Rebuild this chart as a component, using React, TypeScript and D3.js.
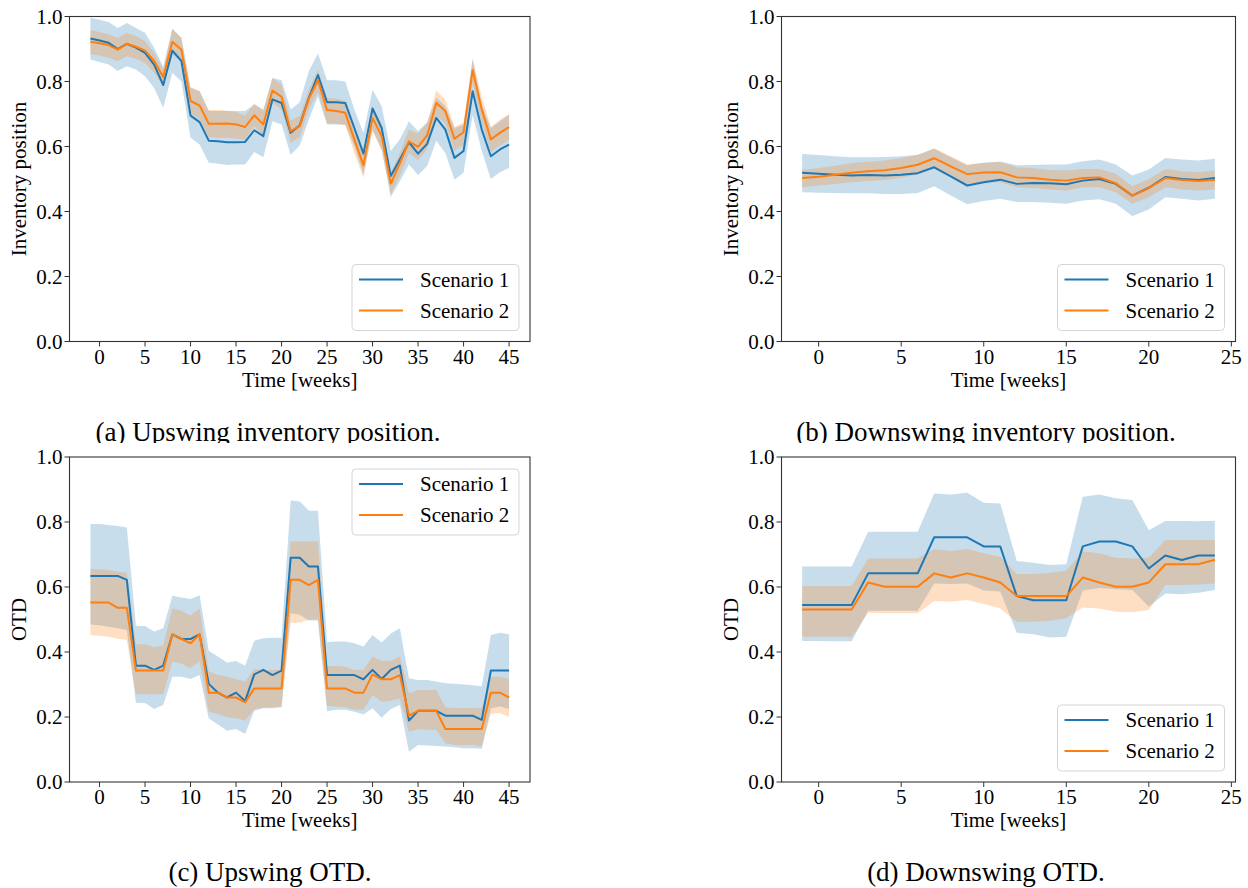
import React from "react";
import * as d3 from "d3";

// x values (weeks)
const upWeeks = [-1, 0, 1, 2, 3, 4, 5, 6, 7, 8, 9, 10, 11, 12, 13, 14, 15, 16, 17, 18, 19, 20, 21, 22, 23, 24, 25, 26, 27, 28, 29, 30, 31, 32, 33, 34, 35, 36, 37, 38, 39, 40, 41, 42, 43, 44, 45];
const downWeeks = [-1, 0, 1, 2, 3, 4, 5, 6, 7, 8, 9, 10, 11, 12, 13, 14, 15, 16, 17, 18, 19, 20, 21, 22, 23, 24];

const upTicks = [0, 5, 10, 15, 20, 25, 30, 35, 40, 45];
const downTicks = [0, 5, 10, 15, 20, 25];
const yTicks = [0, 0.2, 0.4, 0.6, 0.8, 1.0];

// (a) upswing inventory position
const upInvS1 = [0.932, 0.926, 0.919, 0.9, 0.916, 0.904, 0.888, 0.852, 0.789, 0.895, 0.863, 0.695, 0.675, 0.618, 0.616, 0.613, 0.613, 0.614, 0.65, 0.632, 0.745, 0.734, 0.642, 0.665, 0.75, 0.82, 0.736, 0.736, 0.734, 0.657, 0.578, 0.717, 0.657, 0.509, 0.56, 0.613, 0.578, 0.608, 0.688, 0.652, 0.565, 0.586, 0.77, 0.652, 0.57, 0.591, 0.606];
const upInvS1Lo = [0.868, 0.86, 0.852, 0.832, 0.847, 0.837, 0.816, 0.78, 0.719, 0.827, 0.8, 0.627, 0.606, 0.55, 0.547, 0.543, 0.545, 0.545, 0.583, 0.567, 0.678, 0.668, 0.575, 0.603, 0.683, 0.755, 0.668, 0.668, 0.668, 0.6, 0.514, 0.652, 0.59, 0.445, 0.493, 0.545, 0.512, 0.54, 0.618, 0.58, 0.498, 0.519, 0.698, 0.586, 0.5, 0.521, 0.534];
const upInvS1Hi = [0.996, 0.99, 0.983, 0.965, 0.98, 0.965, 0.95, 0.904, 0.845, 0.962, 0.934, 0.78, 0.77, 0.709, 0.709, 0.709, 0.709, 0.709, 0.729, 0.714, 0.811, 0.804, 0.714, 0.736, 0.832, 0.886, 0.804, 0.804, 0.8, 0.714, 0.642, 0.775, 0.724, 0.586, 0.622, 0.678, 0.647, 0.675, 0.75, 0.724, 0.657, 0.667, 0.87, 0.729, 0.657, 0.678, 0.698];
const upInvS2 = [0.922, 0.918, 0.912, 0.898, 0.916, 0.907, 0.895, 0.863, 0.814, 0.922, 0.898, 0.74, 0.726, 0.67, 0.67, 0.671, 0.668, 0.66, 0.696, 0.668, 0.772, 0.753, 0.647, 0.663, 0.747, 0.804, 0.712, 0.709, 0.704, 0.622, 0.542, 0.688, 0.632, 0.486, 0.548, 0.616, 0.599, 0.634, 0.734, 0.709, 0.624, 0.644, 0.835, 0.714, 0.622, 0.642, 0.66];
const upInvS2Lo = [0.883, 0.88, 0.873, 0.862, 0.878, 0.87, 0.857, 0.827, 0.786, 0.883, 0.86, 0.702, 0.683, 0.629, 0.627, 0.627, 0.625, 0.62, 0.663, 0.632, 0.734, 0.715, 0.611, 0.629, 0.714, 0.77, 0.671, 0.67, 0.665, 0.58, 0.504, 0.647, 0.59, 0.452, 0.509, 0.58, 0.558, 0.593, 0.695, 0.671, 0.586, 0.606, 0.796, 0.673, 0.583, 0.603, 0.62];
const upInvS2Hi = [0.958, 0.952, 0.945, 0.934, 0.95, 0.94, 0.924, 0.888, 0.837, 0.962, 0.934, 0.784, 0.77, 0.712, 0.712, 0.711, 0.706, 0.695, 0.732, 0.709, 0.811, 0.791, 0.68, 0.695, 0.775, 0.837, 0.75, 0.747, 0.74, 0.657, 0.57, 0.724, 0.668, 0.519, 0.58, 0.652, 0.64, 0.673, 0.773, 0.745, 0.66, 0.673, 0.87, 0.753, 0.66, 0.683, 0.7];

// (b) downswing inventory position
const downInvS1 = [0.519, 0.516, 0.513, 0.511, 0.512, 0.511, 0.513, 0.518, 0.536, 0.508, 0.48, 0.49, 0.498, 0.485, 0.488, 0.487, 0.484, 0.495, 0.5, 0.485, 0.449, 0.473, 0.506, 0.5, 0.497, 0.503];
const downInvS1Lo = [0.459, 0.458, 0.457, 0.456, 0.456, 0.454, 0.454, 0.457, 0.478, 0.449, 0.422, 0.432, 0.439, 0.429, 0.429, 0.427, 0.424, 0.434, 0.438, 0.424, 0.386, 0.406, 0.444, 0.439, 0.434, 0.439];
const downInvS1Hi = [0.577, 0.574, 0.57, 0.567, 0.567, 0.568, 0.57, 0.575, 0.593, 0.567, 0.542, 0.55, 0.554, 0.542, 0.543, 0.545, 0.545, 0.555, 0.56, 0.545, 0.511, 0.529, 0.565, 0.56, 0.557, 0.562];
const downInvS2 = [0.503, 0.507, 0.513, 0.519, 0.524, 0.527, 0.534, 0.544, 0.564, 0.539, 0.515, 0.52, 0.521, 0.505, 0.503, 0.498, 0.495, 0.503, 0.505, 0.487, 0.449, 0.472, 0.503, 0.497, 0.494, 0.497];
const downInvS2Lo = [0.475, 0.48, 0.485, 0.49, 0.494, 0.497, 0.504, 0.514, 0.533, 0.509, 0.485, 0.49, 0.49, 0.475, 0.472, 0.468, 0.465, 0.475, 0.475, 0.459, 0.424, 0.444, 0.475, 0.468, 0.465, 0.468];
const downInvS2Hi = [0.528, 0.534, 0.541, 0.549, 0.553, 0.557, 0.564, 0.574, 0.595, 0.57, 0.545, 0.55, 0.552, 0.536, 0.533, 0.528, 0.526, 0.531, 0.531, 0.516, 0.478, 0.5, 0.531, 0.524, 0.521, 0.526];

// (c) upswing OTD
const upOtdS1 = [0.634, 0.634, 0.634, 0.634, 0.622, 0.358, 0.358, 0.345, 0.358, 0.454, 0.44, 0.44, 0.454, 0.302, 0.275, 0.26, 0.275, 0.249, 0.331, 0.345, 0.329, 0.343, 0.69, 0.69, 0.663, 0.663, 0.329, 0.329, 0.329, 0.329, 0.316, 0.345, 0.317, 0.345, 0.358, 0.189, 0.219, 0.219, 0.219, 0.204, 0.204, 0.204, 0.204, 0.191, 0.343, 0.343, 0.343];
const upOtdS1Lo = [0.485, 0.482, 0.478, 0.473, 0.468, 0.244, 0.243, 0.225, 0.237, 0.324, 0.324, 0.317, 0.329, 0.196, 0.177, 0.158, 0.163, 0.148, 0.219, 0.227, 0.227, 0.23, 0.519, 0.515, 0.497, 0.497, 0.218, 0.222, 0.222, 0.216, 0.208, 0.227, 0.198, 0.225, 0.237, 0.093, 0.114, 0.112, 0.111, 0.109, 0.107, 0.104, 0.104, 0.102, 0.227, 0.232, 0.225];
const upOtdS1Hi = [0.794, 0.794, 0.791, 0.788, 0.783, 0.48, 0.48, 0.463, 0.473, 0.573, 0.568, 0.563, 0.575, 0.404, 0.386, 0.368, 0.372, 0.358, 0.435, 0.442, 0.444, 0.444, 0.866, 0.863, 0.835, 0.835, 0.43, 0.432, 0.432, 0.427, 0.417, 0.452, 0.429, 0.457, 0.473, 0.319, 0.314, 0.314, 0.309, 0.304, 0.302, 0.3, 0.298, 0.295, 0.452, 0.459, 0.455];
const upOtdS2 = [0.552, 0.552, 0.552, 0.536, 0.536, 0.343, 0.343, 0.343, 0.343, 0.454, 0.44, 0.427, 0.454, 0.275, 0.275, 0.26, 0.26, 0.245, 0.288, 0.288, 0.288, 0.288, 0.622, 0.622, 0.606, 0.622, 0.288, 0.288, 0.288, 0.275, 0.275, 0.331, 0.316, 0.316, 0.329, 0.204, 0.219, 0.219, 0.219, 0.163, 0.163, 0.163, 0.163, 0.163, 0.275, 0.275, 0.26];
const upOtdS2Lo = [0.452, 0.45, 0.447, 0.441, 0.437, 0.27, 0.27, 0.27, 0.27, 0.37, 0.365, 0.35, 0.372, 0.216, 0.209, 0.199, 0.196, 0.189, 0.224, 0.229, 0.23, 0.232, 0.49, 0.49, 0.5, 0.5, 0.234, 0.232, 0.23, 0.222, 0.222, 0.268, 0.247, 0.25, 0.257, 0.155, 0.162, 0.161, 0.16, 0.119, 0.114, 0.114, 0.114, 0.109, 0.21, 0.212, 0.2];
const upOtdS2Hi = [0.655, 0.655, 0.652, 0.647, 0.644, 0.424, 0.424, 0.415, 0.42, 0.534, 0.527, 0.512, 0.534, 0.34, 0.329, 0.324, 0.316, 0.309, 0.347, 0.345, 0.345, 0.345, 0.74, 0.74, 0.74, 0.74, 0.357, 0.357, 0.355, 0.345, 0.345, 0.386, 0.373, 0.373, 0.386, 0.273, 0.283, 0.283, 0.283, 0.23, 0.228, 0.228, 0.228, 0.227, 0.324, 0.324, 0.317];

// (d) downswing OTD
const downOtdS1 = [0.545, 0.545, 0.545, 0.545, 0.642, 0.642, 0.642, 0.642, 0.753, 0.753, 0.753, 0.725, 0.725, 0.572, 0.559, 0.559, 0.559, 0.725, 0.74, 0.74, 0.725, 0.657, 0.697, 0.683, 0.697, 0.697];
const downOtdS1Lo = [0.434, 0.434, 0.433, 0.433, 0.527, 0.527, 0.527, 0.527, 0.611, 0.609, 0.611, 0.589, 0.586, 0.459, 0.455, 0.445, 0.447, 0.589, 0.597, 0.593, 0.591, 0.539, 0.58, 0.578, 0.582, 0.591];
const downOtdS1Hi = [0.663, 0.663, 0.663, 0.663, 0.77, 0.77, 0.77, 0.77, 0.888, 0.885, 0.89, 0.859, 0.857, 0.68, 0.675, 0.668, 0.67, 0.878, 0.885, 0.873, 0.868, 0.775, 0.803, 0.803, 0.802, 0.804];
const downOtdS2 = [0.531, 0.531, 0.531, 0.531, 0.614, 0.601, 0.601, 0.601, 0.642, 0.629, 0.642, 0.629, 0.614, 0.572, 0.572, 0.572, 0.572, 0.629, 0.614, 0.601, 0.601, 0.614, 0.67, 0.67, 0.67, 0.684];
const downOtdS2Lo = [0.447, 0.447, 0.447, 0.447, 0.521, 0.519, 0.519, 0.519, 0.557, 0.555, 0.56, 0.548, 0.534, 0.493, 0.493, 0.496, 0.504, 0.537, 0.534, 0.524, 0.522, 0.529, 0.606, 0.606, 0.608, 0.611];
const downOtdS2Hi = [0.603, 0.603, 0.603, 0.603, 0.688, 0.688, 0.688, 0.688, 0.716, 0.711, 0.717, 0.704, 0.693, 0.64, 0.64, 0.644, 0.65, 0.709, 0.704, 0.69, 0.688, 0.69, 0.745, 0.745, 0.745, 0.745];

const seriesNames = ["Scenario 1", "Scenario 2"];
const BLUE = "#1f77b4";
const ORANGE = "#ff7f0e";
const FONT = "'Liberation Serif', 'Times New Roman', serif";
const AXIS = "#333";

type PanelProps = {
  left: number;
  right: number;
  top: number;
  bottom: number;
  xDomain: [number, number];
  xTicks: number[];
  weeks: number[];
  s1: number[];
  s1Lo: number[];
  s1Hi: number[];
  s2: number[];
  s2Lo: number[];
  s2Hi: number[];
  yLabel: string;
  legendTop: boolean;
};

const Panel = (p: PanelProps) => {
  const x = d3.scaleLinear().domain(p.xDomain).range([p.left, p.right]);
  const y = d3.scaleLinear().domain([0, 1]).range([p.bottom, p.top]);

  const band = (lo: number[], hi: number[]) =>
    d3
      .area<number>()
      .x((d) => x(d))
      .y0((_, i) => y(lo[i]))
      .y1((_, i) => y(hi[i]))(p.weeks) || "";
  const line = (v: number[]) =>
    d3
      .line<number>()
      .x((d) => x(d))
      .y((_, i) => y(v[i]))(p.weeks) || "";

  // legend box
  const lw = 167;
  const lh = 66;
  const lx = p.right - 11 - lw;
  const ly = p.legendTop ? p.top + 12 : p.bottom - 11 - lh;

  return (
    <g>
      <path d={band(p.s1Lo, p.s1Hi)} fill={BLUE} fillOpacity={0.25} />
      <path d={band(p.s2Lo, p.s2Hi)} fill={ORANGE} fillOpacity={0.25} />
      <path d={line(p.s1)} fill="none" stroke={BLUE} strokeWidth={2} strokeLinejoin="round" />
      <path d={line(p.s2)} fill="none" stroke={ORANGE} strokeWidth={2} strokeLinejoin="round" />

      {/* frame */}
      <rect
        x={p.left}
        y={p.top}
        width={p.right - p.left}
        height={p.bottom - p.top}
        fill="none"
        stroke={AXIS}
        strokeWidth={1.1}
      />

      {/* x axis */}
      {p.xTicks.map((t) => (
        <g key={"x" + t}>
          <line x1={x(t)} x2={x(t)} y1={p.bottom} y2={p.bottom + 5} stroke={AXIS} strokeWidth={1} />
          <text x={x(t)} y={p.bottom + 22} textAnchor="middle" fontSize={21} fontFamily={FONT}>
            {t}
          </text>
        </g>
      ))}
      <text
        x={(p.left + p.right) / 2}
        y={p.bottom + 45}
        textAnchor="middle"
        fontSize={21}
        fontFamily={FONT}
      >
        Time [weeks]
      </text>

      {/* y axis */}
      {yTicks.map((t) => (
        <g key={"y" + t}>
          <line x1={p.left - 5} x2={p.left} y1={y(t)} y2={y(t)} stroke={AXIS} strokeWidth={1} />
          <text x={p.left - 7} y={y(t) + 7} textAnchor="end" fontSize={21} fontFamily={FONT}>
            {t.toFixed(1)}
          </text>
        </g>
      ))}
      <text
        transform={`translate(${p.left - 44},${(p.top + p.bottom) / 2}) rotate(-90)`}
        textAnchor="middle"
        fontSize={21}
        fontFamily={FONT}
      >
        {p.yLabel}
      </text>

      {/* legend */}
      <rect x={lx} y={ly} width={lw} height={lh} rx={4} fill="white" fillOpacity={0.8} stroke="#d5d5d5" />
      {seriesNames.map((name, i) => (
        <g key={name}>
          <line
            x1={lx + 7}
            x2={lx + 51}
            y1={ly + 15 + i * 31}
            y2={ly + 15 + i * 31}
            stroke={i === 0 ? BLUE : ORANGE}
            strokeWidth={2}
          />
          <text x={lx + 68} y={ly + 22 + i * 31} fontSize={21} fontFamily={FONT}>
            {name}
          </text>
        </g>
      ))}
    </g>
  );
};

const App = () => {
  const leftCol = { left: 69.5, right: 530, xDomain: [-3.3, 47.3] as [number, number], xTicks: upTicks, weeks: upWeeks };
  const rightCol = { left: 781.5, right: 1235.5, xDomain: [-2.25, 25.25] as [number, number], xTicks: downTicks, weeks: downWeeks };
  const topRow = { top: 16.5, bottom: 341.5 };
  const botRow = { top: 457, bottom: 782 };

  return (
    <svg
      width={1248}
      height={888}
      style={{ position: "absolute", left: 0, top: 0, background: "white" }}
    >
      <defs>
        <clipPath id="capClip">
          <rect x={0} y={0} width={1248} height={443} />
        </clipPath>
      </defs>
      <rect width={1248} height={888} fill="white" />

      <Panel
        {...leftCol}
        {...topRow}
        s1={upInvS1}
        s1Lo={upInvS1Lo}
        s1Hi={upInvS1Hi}
        s2={upInvS2}
        s2Lo={upInvS2Lo}
        s2Hi={upInvS2Hi}
        yLabel="Inventory position"
        legendTop={false}
      />
      <Panel
        {...rightCol}
        {...topRow}
        s1={downInvS1}
        s1Lo={downInvS1Lo}
        s1Hi={downInvS1Hi}
        s2={downInvS2}
        s2Lo={downInvS2Lo}
        s2Hi={downInvS2Hi}
        yLabel="Inventory position"
        legendTop={false}
      />
      <Panel
        {...leftCol}
        {...botRow}
        s1={upOtdS1}
        s1Lo={upOtdS1Lo}
        s1Hi={upOtdS1Hi}
        s2={upOtdS2}
        s2Lo={upOtdS2Lo}
        s2Hi={upOtdS2Hi}
        yLabel="OTD"
        legendTop={true}
      />
      <Panel
        {...rightCol}
        {...botRow}
        s1={downOtdS1}
        s1Lo={downOtdS1Lo}
        s1Hi={downOtdS1Hi}
        s2={downOtdS2}
        s2Lo={downOtdS2Lo}
        s2Hi={downOtdS2Hi}
        yLabel="OTD"
        legendTop={false}
      />

      {/* captions */}
      <g clipPath="url(#capClip)" fontSize={27} fontFamily={FONT} textAnchor="middle">
        <text x={268} y={441}>(a) Upswing inventory position.</text>
        <text x={986} y={441}>(b) Downswing inventory position.</text>
      </g>
      <g fontSize={27} fontFamily={FONT} textAnchor="middle">
        <text x={270} y={881}>(c) Upswing OTD.</text>
        <text x={986} y={881}>(d) Downswing OTD.</text>
      </g>
    </svg>
  );
};

export default App;
